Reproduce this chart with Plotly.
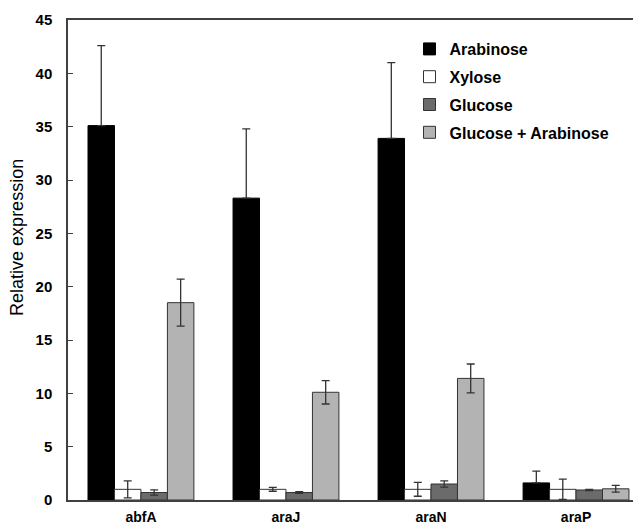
import plotly.graph_objects as go

genes = ["abfA", "araJ", "araN", "araP"]
series_names = ["Arabinose", "Xylose", "Glucose", "Glucose + Arabinose"]

arabinose = [35.1, 28.3, 33.9, 1.6]
arabinose_err = [7.5, 6.5, 7.1, 1.1]
xylose = [1.0, 1.0, 1.0, 1.0]
xylose_err = [0.8, 0.18, 0.65, 0.95]
glucose = [0.7, 0.7, 1.5, 0.94]
glucose_err = [0.25, 0.08, 0.3, 0.06]
glu_ara = [18.5, 10.1, 11.4, 1.05]
glu_ara_err = [2.2, 1.1, 1.35, 0.32]

y_ticks = [0, 5, 10, 15, 20, 25, 30, 35, 40, 45]

values = [arabinose, xylose, glucose, glu_ara]
errors = [arabinose_err, xylose_err, glucose_err, glu_ara_err]
fills = ["#000000", "#ffffff", "#6b6b6b", "#b3b3b3"]
edges = ["#000000", "#333333", "#333333", "#333333"]

fig = go.Figure()
for i, name in enumerate(series_names):
    err = dict(type="data", array=errors[i], visible=True,
               color="#333333", thickness=1.3, width=4)
    if i == 0:
        # lower half hidden inside the black bar in the reference
        err["symmetric"] = False
        err["arrayminus"] = [0 for _ in errors[i]]
    fig.add_trace(go.Bar(
        x=genes, y=values[i], name=name, legendgroup=name,
        marker=dict(color=fills[i], line=dict(color=edges[i], width=1)),
        error_y=err,
    ))

# the page body has an 8px default margin, so the figure is offset by 8px
fig.update_layout(
    width=641, height=527,
    margin=dict(l=60, r=8, t=12, b=35, pad=0, autoexpand=False),
    paper_bgcolor="white", plot_bgcolor="white",
    barmode="group", bargap=0.27, bargroupgap=0,
    font=dict(family="Liberation Sans, Arial, sans-serif", color="#000000"),
    legend=dict(
        x=0.596, y=0.975, xanchor="left", yanchor="top",
        font=dict(size=16, weight=700, family="Liberation Sans, Arial, sans-serif"),
        traceorder="grouped", tracegroupgap=4,
        bgcolor="rgba(0,0,0,0)",
    ),
    xaxis=dict(
        type="category", range=[-0.503, 3.448], automargin=False,
        showline=True, linecolor="#404040", linewidth=1.5, mirror=True,
        ticks="", showgrid=False,
        tickfont=dict(size=14, weight=700),
        ticklabelstandoff=3,
    ),
    yaxis=dict(
        range=[0, 45], tickvals=y_ticks, automargin=False,
        showline=True, linecolor="#404040", linewidth=1.5,
        ticks="inside", ticklen=5, tickcolor="#404040",
        showgrid=False, zeroline=False,
        tickfont=dict(size=15, weight=700),
        ticklabelstandoff=11,
    ),
    annotations=[dict(
        text="Relative expression", textangle=-90,
        xref="paper", yref="paper", x=-0.089, y=0.546,
        showarrow=False, font=dict(size=18),
        xanchor="center", yanchor="middle",
    )],
)

fig.write_html("out.html")
